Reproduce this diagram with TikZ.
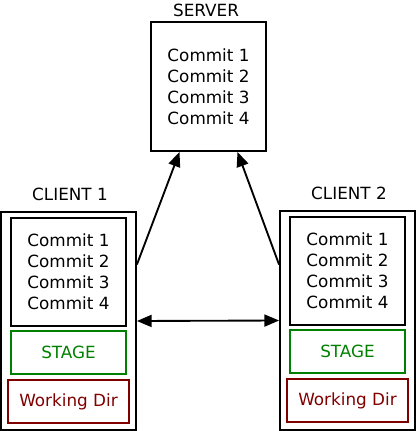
\documentclass[tikz,border=0pt]{standalone}
\usepackage{fontspec}
\setmainfont{DejaVu Sans}
\usetikzlibrary{calc,arrows.meta}
\definecolor{stagegreen}{RGB}{0,128,0}
\definecolor{dirred}{RGB}{128,0,0}
\tikzset{
    box/.style={draw, line width=1.4pt, align=center, inner sep=0pt,
        font=\fontsize{12.6}{15.75}\selectfont},
    commits/.style={box, minimum width=86.25pt, minimum height=81pt},
    client/.style={box, minimum width=101.25pt, minimum height=163.5pt},
    stage/.style={box, draw=stagegreen, text=stagegreen, minimum width=86.25pt, minimum height=32.25pt},
    workdir/.style={box, draw=dirred, text=dirred, minimum width=90.75pt, minimum height=32.25pt},
    title/.style={font=\fontsize{12.6}{15.75}\selectfont},
    head/.tip={Triangle[length=11pt,width=9pt]},
    link/.style={line width=1.4pt, -head},
    twoway/.style={line width=1.4pt, head-head}
}
\begin{document}
\begin{tikzpicture}
    \useasboundingbox (0,0) rectangle (312pt,-323.25pt);

    % server
    \node[box, minimum width=86.25pt, minimum height=96.75pt] (srv) at (156.375pt,-64.875pt)
        {Commit 1\\Commit 2\\Commit 3\\Commit 4};
    \node[title] (srvlabel) at (154.5pt,-7.5pt) {SERVER};

    % client 1
    \node[client] (c1) at (51.375pt,-240.75pt) {};
    \node[title] (c1label) at (52.5pt,-145.5pt) {CLIENT 1};
    \node[commits] (c1commits) at (51.375pt,-204pt) {Commit 1\\Commit 2\\Commit 3\\Commit 4};
    \node[stage] (c1stage) at (51.375pt,-264.375pt) {STAGE};
    \node[workdir] (c1dir) at (51.375pt,-301.125pt) {Working Dir};

    % client 2
    \node[client, minimum height=164.25pt] (c2) at (260.625pt,-240.375pt) {};
    \node[title] (c2label) at (261.75pt,-144.75pt) {CLIENT 2};
    \node[commits] (c2commits) at (260.625pt,-203.25pt) {Commit 1\\Commit 2\\Commit 3\\Commit 4};
    \node[stage] (c2stage) at (260.625pt,-263.625pt) {STAGE};
    \node[workdir] (c2dir) at (260.625pt,-300.375pt) {Working Dir};

    % push / pull
    \draw[link] ($(c1.north east)!0.243!(c1.south east)$)
        -- ($(srv.south west)!0.252!(srv.south east)$);
    \draw[link] ($(c2.north west)!0.247!(c2.south west)$)
        -- ($(srv.south west)!0.748!(srv.south east)$);
    \draw[twoway] (c1.east) -- (c2.west);
\end{tikzpicture}
\end{document}
